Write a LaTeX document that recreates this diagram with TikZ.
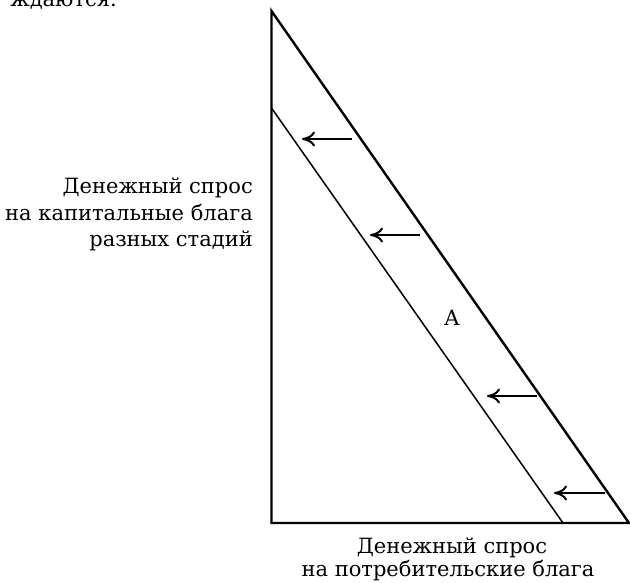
\documentclass[tikz,border=0pt]{standalone}
\usepackage{fontspec}
\setmainfont{DejaVu Serif}
\usetikzlibrary{arrows.meta}
\begin{document}
\begin{tikzpicture}[x=1pt,y=1pt,
  lbl/.style={font=\fontsize{21}{26}\selectfont, inner sep=0pt},
  thickline/.style={line width=2.4pt, line cap=round, line join=miter},
  thinline/.style={line width=1.5pt},
  shiftarrow/.style={line width=2pt, -{To[length=13pt,width=15pt,line width=2pt]}}]
\useasboundingbox (0,0) rectangle (630,582);
\coordinate (apex) at (271.5,571);
\coordinate (o) at (271.5,59);
\coordinate (r) at (629,59);
\coordinate (itop) at (271.5,474);
\coordinate (ibot) at (563,59);
\draw[thickline] (apex) -- (o) -- (r) -- cycle;
\draw[thinline] (itop) -- (ibot);
\coordinate (s1) at (352,443); \coordinate (t1) at (302,443);
\coordinate (s2) at (420,347); \coordinate (t2) at (370,347);
\coordinate (s3) at (537,186); \coordinate (t3) at (487,186);
\coordinate (s4) at (605,89);  \coordinate (t4) at (554,89);
\draw[shiftarrow] (s1) -- (t1);
\draw[shiftarrow] (s2) -- (t2);
\draw[shiftarrow] (s3) -- (t3);
\draw[shiftarrow] (s4) -- (t4);
\node[lbl] (a) at (452,264) {A};
\node[lbl, anchor=base east] (y1) at (253,388) {Денежный спрос};
\node[lbl, anchor=base east] (y2) at (253,361) {на капитальные блага};
\node[lbl, anchor=base east] (y3) at (253,335) {разных стадий};
\node[lbl, anchor=base] (x1) at (452,29) {Денежный спрос};
\node[lbl, anchor=base] (x2) at (448,6) {на потребительские блага};
\node[lbl, anchor=base east] (top) at (117,575) {ждаются.};
\end{tikzpicture}
\end{document}
